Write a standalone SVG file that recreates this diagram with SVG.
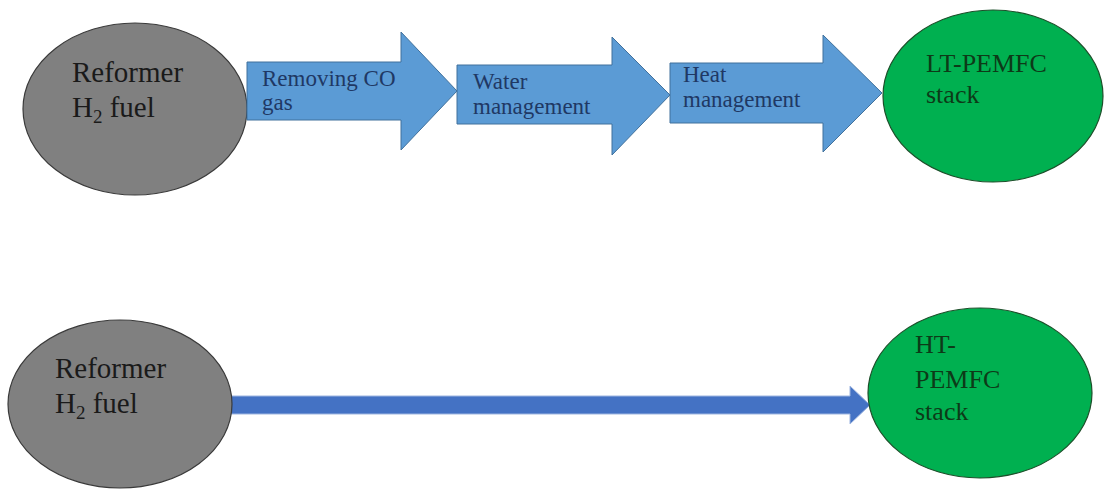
<svg xmlns="http://www.w3.org/2000/svg" width="1104" height="490" viewBox="0 0 1104 490">
<style>
.grey{fill:#808080;stroke:#3a3a3a;stroke-width:1.2}
.green{fill:#00b050;stroke:#1d4f2a;stroke-width:1.2}
.blk{fill:#5b9bd5;stroke:#41719c;stroke-width:1}
.line{fill:#4472c4;stroke:#9db5e0;stroke-width:1}
.t{font-family:"Liberation Serif","Times New Roman",serif}
.big{font-size:29px;fill:#1a1a1a}
.arr{font-size:23px;fill:#1f3864}
.gt{font-size:26px;fill:#0d3a18}
</style>
<rect width="1104" height="490" fill="#ffffff"/>
<g id="reformer-top">
<ellipse class="grey" cx="135" cy="109" rx="112" ry="86"/>
<text class="t big" x="72" y="82">Reformer</text>
<text class="t big" x="72" y="117">H<tspan font-size="19" dy="6">2</tspan><tspan dy="-6"> fuel</tspan></text>
</g>
<g id="connectors">
<polygon id="arrow-removing-co" class="blk" points="247,62 401,62 401,32 457,91 401,150 401,120 247,120"/>
<polygon id="arrow-water" class="blk" points="457,65 612,65 612,37 670,95 612,155 612,124 457,124"/>
<polygon id="arrow-heat" class="blk" points="670,63 823,63 823,35 882,93 823,152 823,123 670,123"/>
<polygon id="arrow-bottom" class="line" points="231,396 850,396 850,386 870,405 850,424 850,414 231,414"/>
</g>
<g id="label-removing-co">
<text class="t arr" x="262" y="86">Removing CO</text>
<text class="t arr" x="262" y="110">gas</text>
</g>
<g id="label-water">
<text class="t arr" x="473" y="89">Water</text>
<text class="t arr" x="473" y="114">management</text>
</g>
<g id="label-heat">
<text class="t arr" x="683" y="82">Heat</text>
<text class="t arr" x="683" y="107">management</text>
</g>
<g id="lt-pemfc">
<ellipse class="green" cx="993" cy="96" rx="110" ry="86"/>
<text class="t gt" x="926" y="72">LT-PEMFC</text>
<text class="t gt" x="926" y="103">stack</text>
</g>
<g id="reformer-bottom">
<ellipse class="grey" cx="120" cy="404" rx="112" ry="84"/>
<text class="t big" x="55" y="378">Reformer</text>
<text class="t big" x="55" y="413">H<tspan font-size="19" dy="6">2</tspan><tspan dy="-6"> fuel</tspan></text>
</g>
<g id="ht-pemfc">
<ellipse class="green" cx="980" cy="393" rx="112" ry="85"/>
<text class="t gt" x="915" y="353">HT-</text>
<text class="t gt" x="915" y="388">PEMFC</text>
<text class="t gt" x="915" y="420">stack</text>
</g>
</svg>
